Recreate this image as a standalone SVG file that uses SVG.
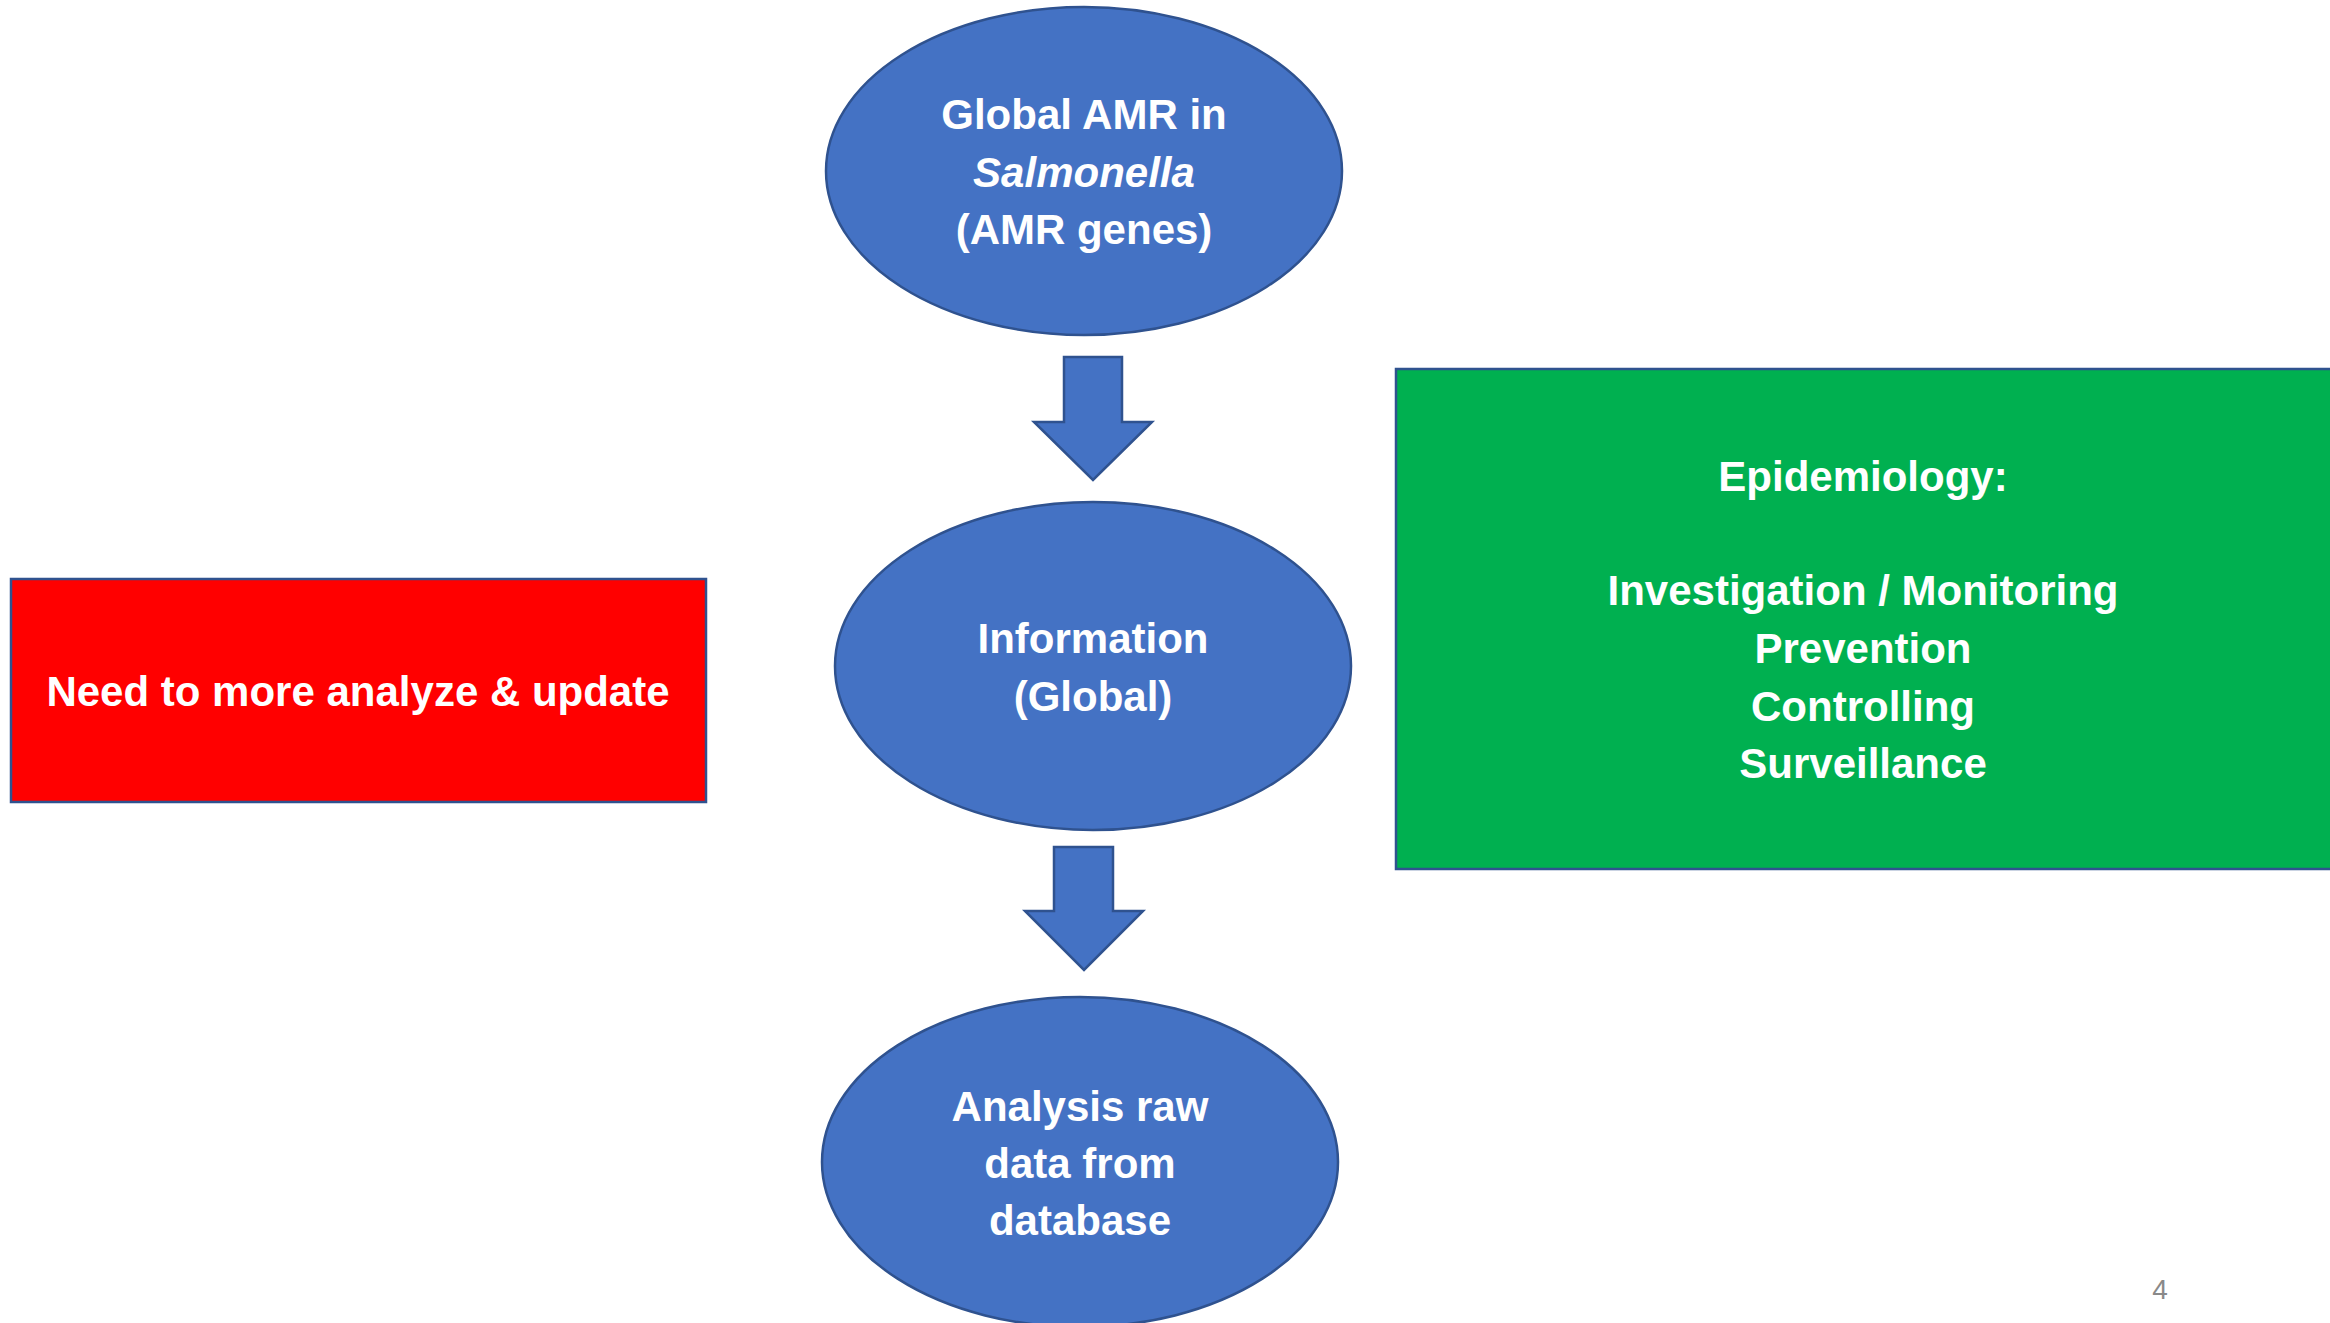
<svg xmlns="http://www.w3.org/2000/svg" width="2330" height="1323" viewBox="0 0 2330 1323">
<style>
.shape{stroke:#2F528F;stroke-width:2.5}
.blue{fill:#4472C4}
.t{font-family:"Liberation Sans",Arial,sans-serif;font-weight:bold;font-size:42px;fill:#FFFFFF;text-anchor:middle}
.pg{font-family:"Liberation Sans",Arial,sans-serif;font-size:28px;fill:#898989;text-anchor:middle}
</style>
<rect x="0" y="0" width="2330" height="1323" fill="#FFFFFF"/>
<g id="connectors">
<polygon class="shape blue" points="1064,357 1122,357 1122,422 1152,422 1093,480 1034,422 1064,422"/>
<polygon class="shape blue" points="1054,847 1113,847 1113,911 1143,911 1084,970 1025,911 1054,911"/>
</g>
<g id="node-global-amr">
<ellipse class="shape blue" cx="1084" cy="171" rx="258" ry="164"/>
<text class="t" x="1084" y="129">Global AMR in</text>
<text class="t" x="1084" y="187" font-style="italic">Salmonella</text>
<text class="t" x="1084" y="244">(AMR genes)</text>
</g>
<g id="node-information">
<ellipse class="shape blue" cx="1093" cy="666" rx="258" ry="164"/>
<text class="t" x="1093" y="653">Information</text>
<text class="t" x="1093" y="711">(Global)</text>
</g>
<g id="node-analysis">
<ellipse class="shape blue" cx="1080" cy="1162" rx="258" ry="165"/>
<text class="t" x="1080" y="1121">Analysis raw</text>
<text class="t" x="1080" y="1178">data from</text>
<text class="t" x="1080" y="1235">database</text>
</g>
<g id="node-need-analyze">
<rect class="shape" x="11" y="579" width="695" height="223" fill="#FF0000"/>
<text class="t" x="358" y="706">Need to more analyze &amp; update</text>
</g>
<g id="node-epidemiology">
<rect class="shape" x="1396" y="369" width="940" height="500" fill="#00B050"/>
<text class="t" x="1863" y="491">Epidemiology:</text>
<text class="t" x="1863" y="605">Investigation / Monitoring</text>
<text class="t" x="1863" y="663">Prevention</text>
<text class="t" x="1863" y="721">Controlling</text>
<text class="t" x="1863" y="778">Surveillance</text>
</g>
<text class="pg" x="2160" y="1299">4</text>
</svg>
